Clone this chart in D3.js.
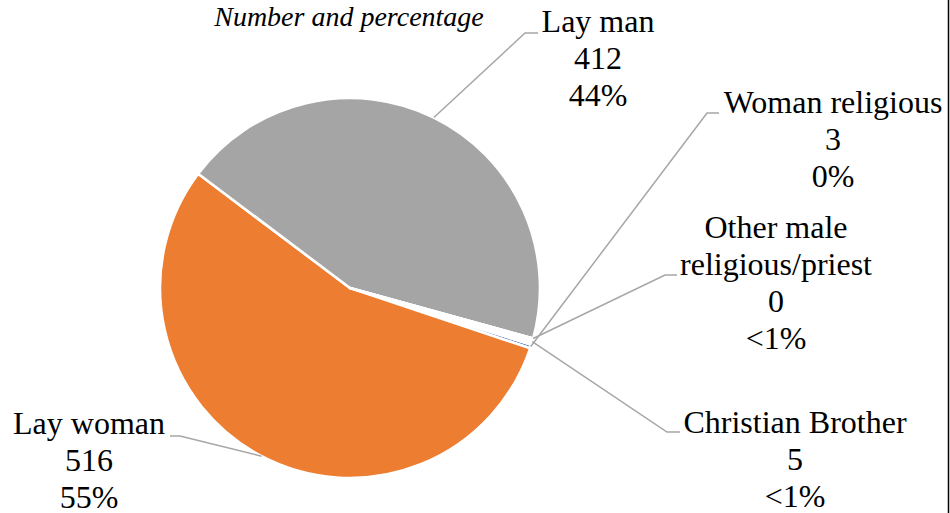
<!DOCTYPE html>
<html>
<head>
<meta charset="utf-8">
<script src="https://cdn.jsdelivr.net/npm/d3@7"></script>
<style>
  html, body { margin: 0; padding: 0; background: #fff; }
  svg { display: block; }
</style>
</head>
<body>
<svg id="chart" width="950" height="513"></svg>
<script>
// ---- data ----
const categories = ["Woman religious", "Lay woman", "Lay man", "Other male religious/priest", "Christian Brother"];
const labelLines = [["Woman religious"], ["Lay woman"], ["Lay man"], ["Other male", "religious/priest"], ["Christian Brother"]];
const counts = [3, 516, 412, 0, 5];
const percentLabels = ["0%", "55%", "44%", "<1%", "<1%"];
const title = "Number and percentage";

// ---- styles / layout (not data) ----
const FONT = "'Liberation Serif', 'Times New Roman', Tinos, 'DejaVu Serif', serif";
const colors = ["#4472C4", "#ED7D31", "#A5A5A5", "#FFC000", "#FFFFFF"];
const labelAnchors = [
  { x: 833, y: 113, elbow: [707, 113], end: [719, 113] },
  { x: 89,  y: 434, elbow: [180, 436], end: [170, 436] },
  { x: 598, y: 32,  elbow: [525, 33],  end: [538, 33] },
  { x: 776, y: 238, elbow: [665, 275], end: [677, 275] },
  { x: 795, y: 433, elbow: [667, 432], end: [680, 432] }
];
const lineHeight = 37;

const svg = d3.select("#chart");
const cx = 350, cy = 288, r = 190;
const start = 107.35 * Math.PI / 180;

const pie = d3.pie().sort(null).value(d => d).startAngle(start).endAngle(start + 2 * Math.PI);
const arcs = pie(counts);
const arc = d3.arc().innerRadius(0).outerRadius(r);

const g = svg.append("g").attr("transform", `translate(${cx},${cy})`);
g.selectAll("path.slice").data(arcs).enter().append("path")
  .attr("class", "slice")
  .attr("d", arc)
  .attr("fill", (d, i) => colors[i])
  .attr("stroke", "#fff")
  .attr("stroke-width", 2.6)
  .attr("stroke-linejoin", "round");

// leader lines
arcs.forEach((d, i) => {
  const mid = (d.startAngle + d.endAngle) / 2;
  const px = cx + Math.sin(mid) * r;
  const py = cy - Math.cos(mid) * r;
  const a = labelAnchors[i];
  svg.append("polyline")
    .attr("points", `${px},${py} ${a.elbow[0]},${a.elbow[1]} ${a.end[0]},${a.end[1]}`)
    .attr("fill", "none")
    .attr("stroke", "#A6A6A6")
    .attr("stroke-width", 1.5);
});

// labels
categories.forEach((c, i) => {
  const a = labelAnchors[i];
  const lines = labelLines[i].concat([String(counts[i]), percentLabels[i]]);
  const t = svg.append("text")
    .attr("text-anchor", "middle")
    .attr("font-family", FONT)
    .attr("font-size", 32)
    .attr("fill", "#000");
  lines.forEach((ln, k) => {
    t.append("tspan").attr("x", a.x).attr("y", a.y + k * lineHeight).text(ln);
  });
});

// title
svg.append("text")
  .attr("x", 349).attr("y", 26)
  .attr("text-anchor", "middle")
  .attr("font-family", FONT)
  .attr("font-size", 28)
  .attr("font-style", "italic")
  .attr("fill", "#000")
  .text(title);

// right frame edge
svg.append("line")
  .attr("x1", 948.5).attr("x2", 948.5).attr("y1", 0).attr("y2", 513)
  .attr("stroke", "#000").attr("stroke-width", 1.5);
</script>
</body>
</html>
